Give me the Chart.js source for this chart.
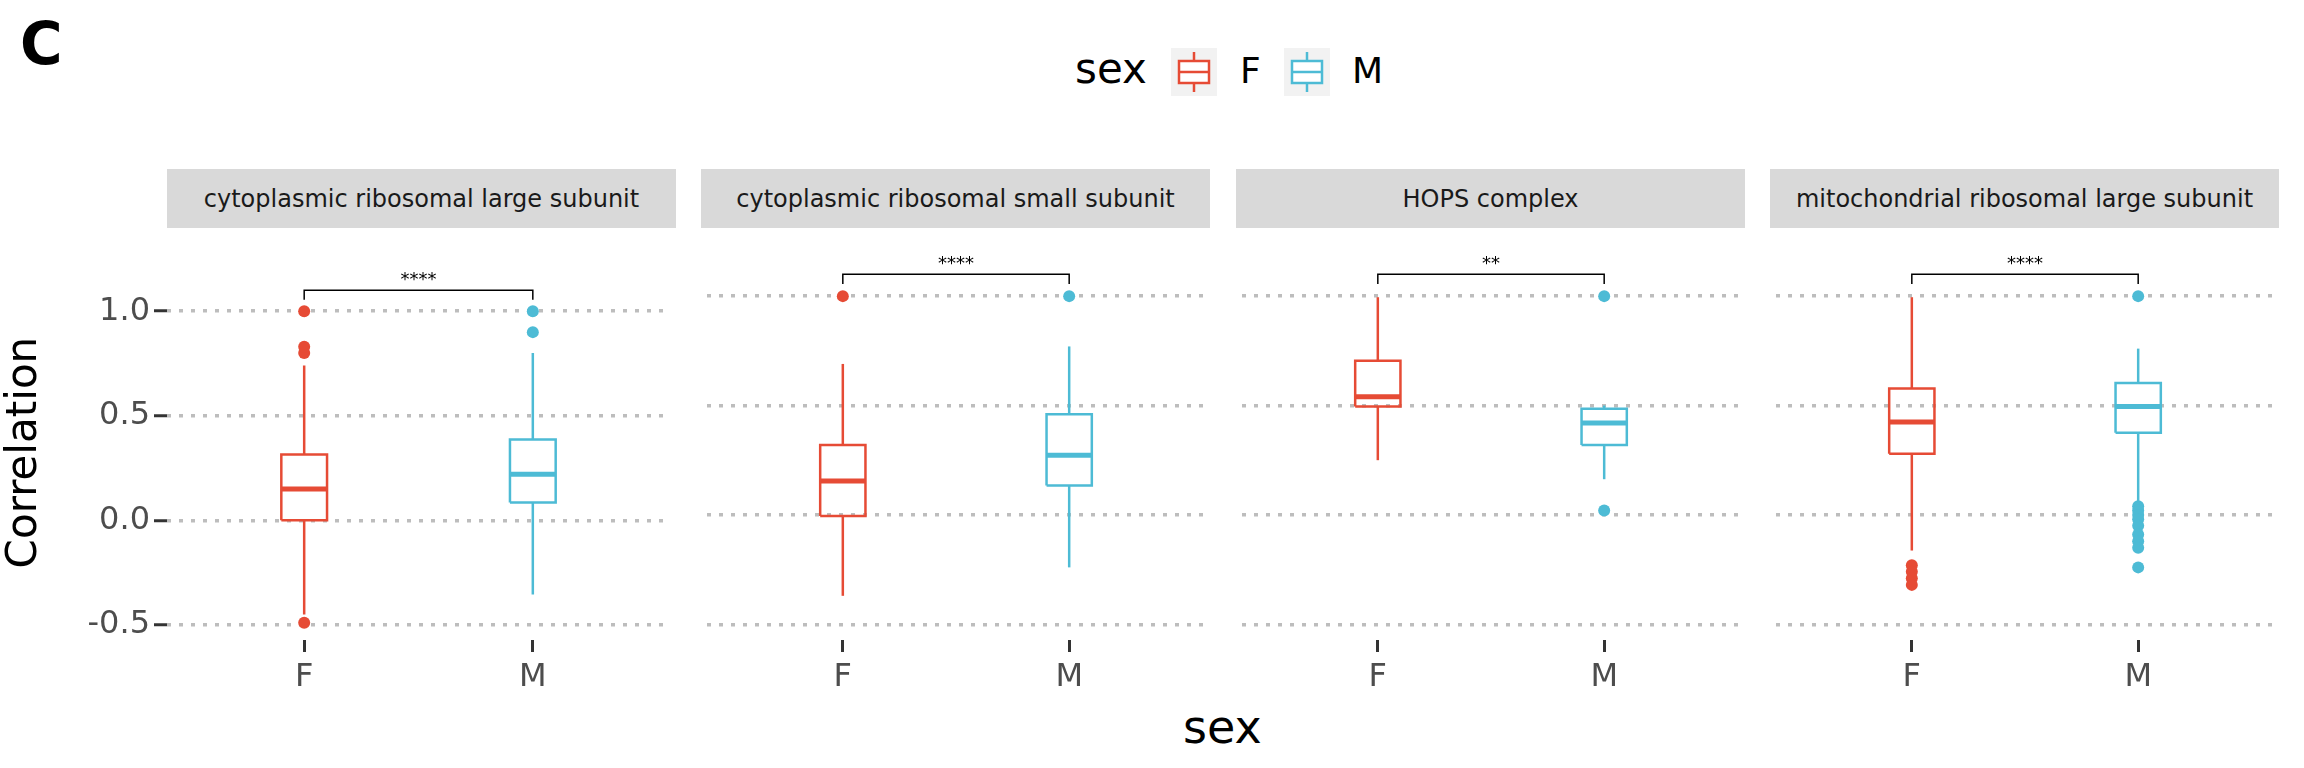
<!DOCTYPE html>
<html lang="en">
<head>
<meta charset="UTF-8">
<title>Correlation by sex</title>
<script src="https://cdn.jsdelivr.net/npm/chart.js"></script>
<style>
  body { margin:0; width:2304px; height:768px; background:#fff; font-family:"DejaVu Sans", sans-serif; position:relative; overflow:hidden; }
  .abs { position:absolute; }
  .strip { position:absolute; top:169px; height:59px; width:509px; background:#d9d9d9; color:#1a1a1a; font-size:24px; display:flex; align-items:center; justify-content:center; white-space:nowrap; }
  canvas { position:absolute; }
</style>
</head>
<body>
<div class="abs" style="left:20px;top:10px;font-size:58px;font-weight:bold;">C</div>
<div class="abs" style="left:1075px;top:44px;font-size:42px;">sex</div>
<svg class="abs" style="left:1171px;top:48px" width="46" height="48">
  <rect width="46" height="48" fill="#f2f2f2"/>
  <line x1="23" y1="4" x2="23" y2="44" stroke="#E64B35" stroke-width="2.5"/>
  <rect x="8" y="13" width="30" height="22" fill="#fff" stroke="#E64B35" stroke-width="2.5"/>
  <line x1="8" y1="24" x2="38" y2="24" stroke="#E64B35" stroke-width="2.5"/>
</svg>
<div class="abs" style="left:1240px;top:50px;font-size:36px;">F</div>
<svg class="abs" style="left:1284px;top:48px" width="46" height="48">
  <rect width="46" height="48" fill="#f2f2f2"/>
  <line x1="23" y1="4" x2="23" y2="44" stroke="#4DBBD5" stroke-width="2.5"/>
  <rect x="8" y="13" width="30" height="22" fill="#fff" stroke="#4DBBD5" stroke-width="2.5"/>
  <line x1="8" y1="24" x2="38" y2="24" stroke="#4DBBD5" stroke-width="2.5"/>
</svg>
<div class="abs" style="left:1352px;top:50px;font-size:36px;">M</div>
<div class="abs" style="left:1183px;top:700px;font-size:46px;">sex</div>
<div id="strips"></div>

<canvas id="c0" width="676" height="468" style="left:0px;top:242px"></canvas>
<canvas id="c1" width="510" height="468" style="left:701px;top:242px"></canvas>
<canvas id="c2" width="510" height="468" style="left:1236px;top:242px"></canvas>
<canvas id="c3" width="510" height="468" style="left:1770px;top:242px"></canvas>

<script>
const panelNames = ['cytoplasmic ribosomal large subunit', 'cytoplasmic ribosomal small subunit', 'HOPS complex', 'mitochondrial ribosomal large subunit'];
const sexes = ['F', 'M'];
const yTicks = [-0.5, 0.0, 0.5, 1.0];
const sigLabels = ['****', '****', '**', '****'];

// female stats per panel
const fLow    = [-0.45, -0.37, 0.25, -0.163];
const fQ1     = [0.0, -0.005, 0.495, 0.28];
const fMedian = [0.15, 0.155, 0.54, 0.425];
const fQ3     = [0.315, 0.32, 0.705, 0.578];
const fHigh   = [0.74, 0.69, 0.995, 0.995];
const fOut    = [[-0.49, 0.80, 0.83, 1.0], [1.0], [], [-0.23, -0.26, -0.29, -0.32]];
// male stats per panel
const mLow    = [-0.355, -0.24, 0.163, 0.057];
const mQ1     = [0.085, 0.134, 0.32, 0.375];
const mMedian = [0.22, 0.273, 0.42, 0.495];
const mQ3     = [0.387, 0.46, 0.485, 0.603];
const mHigh   = [0.80, 0.77, 0.50, 0.76];
const mOut    = [[0.90, 1.0], [1.0], [0.02, 1.0], [0.04, 0.02, 0.0, -0.02, -0.05, -0.09, -0.12, -0.15, -0.24, 1.0]];

const colF = '#E64B35', colM = '#4DBBD5';
const stripLeft = [167, 701, 1236, 1770];
const canvasLeftPad = [167, 0, 0, 0];

const strips = document.getElementById('strips');
panelNames.forEach((n, i) => {
  const d = document.createElement('div');
  d.className = 'strip';
  d.style.left = stripLeft[i] + 'px';
  d.textContent = n;
  strips.appendChild(d);
});

function line(pts, color, w) {
  return { data: pts, showLine: true, borderColor: color, borderWidth: w, pointRadius: 0, fill: false };
}

function boxSets(x, lo, q1, med, q3, hi, outs, color) {
  const hw = 0.1;
  return [
    line([{x:x, y:lo}, {x:x, y:q1}], color, 2.5),
    line([{x:x, y:q3}, {x:x, y:hi}], color, 2.5),
    line([{x:x-hw, y:q1}, {x:x+hw, y:q1}, {x:x+hw, y:q3}, {x:x-hw, y:q3}, {x:x-hw, y:q1}], color, 2.5),
    line([{x:x-hw, y:med}, {x:x+hw, y:med}], color, 5),
    { data: outs.map(v => ({x:x, y:v})), pointRadius: 6, pointBackgroundColor: color, pointBorderWidth: 0, showLine: false }
  ];
}

const sigPlugin = {
  id: 'sig',
  afterDatasetsDraw(chart) {
    const ctx = chart.ctx;
    const xs = chart.scales.x, ys = chart.scales.y;
    ctx.save();
    ctx.fillStyle = '#000';
    ctx.font = '18px "DejaVu Sans"';
    ctx.textAlign = 'center';
    ctx.textBaseline = 'bottom';
    ctx.fillText(chart.options.plugins.sig.label, xs.getPixelForValue(1.5), ys.getPixelForValue(1.1) - 1);
    ctx.restore();
  }
};

panelNames.forEach((n, i) => {
  const first = i === 0;
  const datasets = [
    ...boxSets(1, fLow[i], fQ1[i], fMedian[i], fQ3[i], fHigh[i], fOut[i], colF),
    ...boxSets(2, mLow[i], mQ1[i], mMedian[i], mQ3[i], mHigh[i], mOut[i], colM),
    line([{x:1, y:1.055}, {x:1, y:1.1}, {x:2, y:1.1}, {x:2, y:1.055}], '#000', 1.5)
  ];
  new Chart(document.getElementById('c' + i), {
    type: 'scatter',
    data: { datasets },
    plugins: [sigPlugin],
    options: {
      responsive: false,
      animation: false,
      layout: { padding: 0 },
      plugins: { legend: { display: false }, tooltip: { enabled: false }, sig: { label: sigLabels[i] } },
      scales: {
        x: {
          type: 'linear', min: 0.4, max: 2.6,
          afterBuildTicks: s => { s.ticks = [{value:1}, {value:2}]; },
          afterFit: s => { s.height = 70; },
          ticks: { callback: v => sexes[v - 1], color: '#4d4d4d', font: { size: 32, family: 'DejaVu Sans' }, padding: 6, maxRotation: 0 },
          grid: { drawOnChartArea: false, tickLength: 12, tickColor: '#333', tickWidth: 3 },
          border: { display: false }
        },
        y: {
          min: -0.572, max: 1.22,
          afterBuildTicks: s => { s.ticks = yTicks.map(v => ({value: v})); },
          afterFit: s => { s.width = canvasLeftPad[i]; },
          ticks: { display: first, callback: v => v.toFixed(1), color: '#4d4d4d', font: { size: 32, family: 'DejaVu Sans' }, padding: 4 },
          title: { display: first, text: 'Correlation', color: '#000', font: { size: 42, family: 'DejaVu Sans' }, padding: 0 },
          grid: { color: '#bdbdbd', lineWidth: 3.5, drawTicks: first, tickLength: 13, tickColor: '#333', tickWidth: 3 },
          border: { display: false, dash: [4, 8] }
        }
      }
    }
  });
});
</script>
</body>
</html>
